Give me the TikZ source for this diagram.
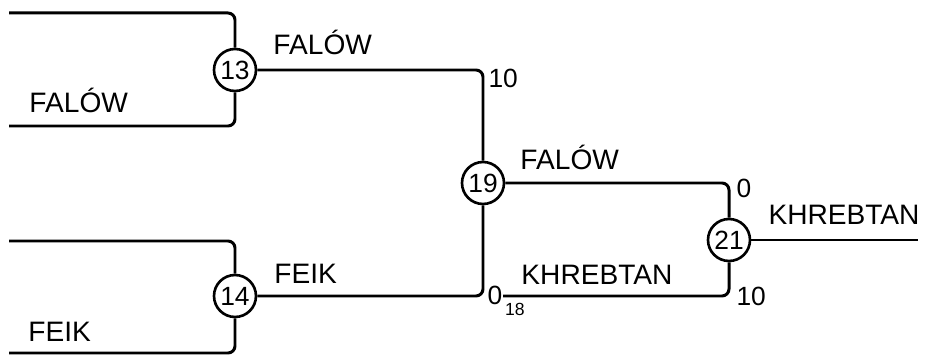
\documentclass[tikz,border=0pt]{standalone}
\usepackage{fontspec}
\setmainfont{Liberation Sans}
\usepackage{tikz}
\usetikzlibrary{positioning}

\begin{document}
\begin{tikzpicture}[x=0.02cm,y=-0.02cm,line width=1.7pt,rounded corners=4pt,
	match/.style={circle,draw,line width=1.5pt,minimum size=0.84cm,inner sep=0pt,font=\fontsize{15}{17}\selectfont},
	team/.style={anchor=base west,inner sep=0pt,font=\fontsize{16}{18}\selectfont},
	score/.style={anchor=base west,inner sep=0pt,font=\fontsize{15}{17}\selectfont}]
	 \useasboundingbox (0,0) rectangle (933,357);

	 \node[match] (m13) at (235,70) {13};
	 \node[match] (m14) at (235,296) {14};
	 \node[match] (m19) at (483,183) {19};
	 \node[match] (m21) at (729,240) {21};

	 \coordinate (a13) at (9,13);
	 \coordinate (b13) at (9,126);
	 \coordinate (a14) at (9,241);
	 \coordinate (b14) at (9,353);
	 \coordinate (m18) at (503,296);
	 \coordinate (win) at (918,240);

	 \draw (a13) -| (m13.north);
	 \draw (b13) -| (m13.south);
	 \draw (a14) -| (m14.north);
	 \draw (b14) -| (m14.south);
	 \draw (m13.east) -| (m19.north);
	 \draw (m14.east) -| (m19.south);
	 \draw (m19.east) -| (m21.north);
	 \draw (m18) -| (m21.south);
	 \draw (m21.east) -- (win);

	 \node[team] (t13b) at (28,113) {FALÓW};
	 \node[team] (t14b) at (27,342) {FEIK};
	 \node[team] (t13) at (272,55) {FALÓW};
	 \node[team] (t14) at (273,284) {FEIK};
	 \node[team] (t19) at (519,170) {FALÓW};
	 \node[team] (t18) at (520,285) {KHREBTAN};
	 \node[team] (t21) at (767,225) {KHREBTAN};

	 \node[score] (s13) at (487,88) {10};
	 \node[score] (s14) at (486,305) {0};
	 \node[score,font=\fontsize{10}{12}\selectfont] (s18) [right=0pt of s14.base east,anchor=base west,yshift=-6pt] {18};
	 \node[score] (s19) at (735,198) {0};
	 \node[score] (s21) at (735,306) {10};
\end{tikzpicture}
\end{document}
